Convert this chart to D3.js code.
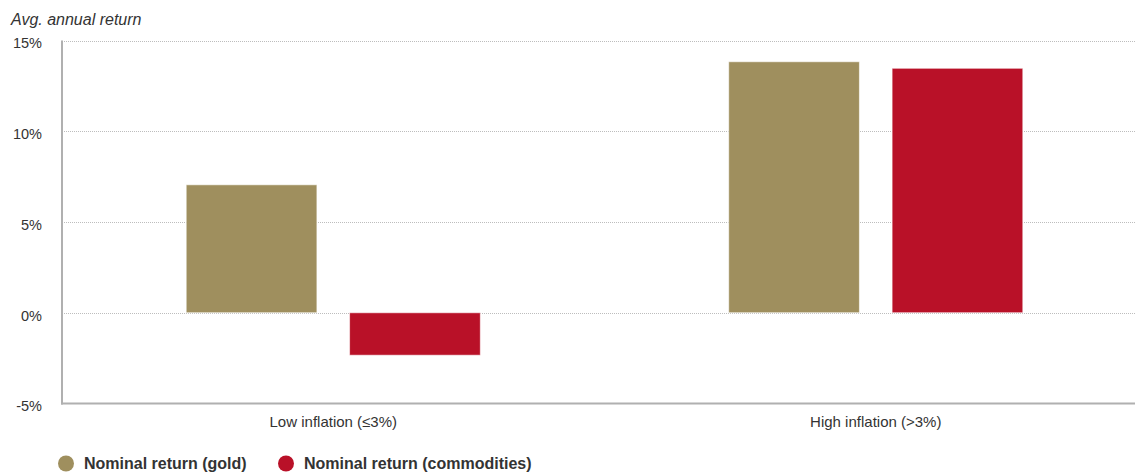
<!DOCTYPE html>
<html>
<head>
<meta charset="utf-8">
<script src="https://cdn.jsdelivr.net/npm/d3@7"></script>
<style>
  body { margin: 0; background: #fff; }
  svg { display: block; font-family: "Liberation Sans", Arial, Helvetica, sans-serif; }
</style>
</head>
<body>
<div id="chart"></div>
<script>
// chart data
const categories = ["Low inflation (≤3%)", "High inflation (>3%)"];
const seriesNames = ["Nominal return (gold)", "Nominal return (commodities)"];
const goldValues = [7.05, 13.83];
const commodityValues = [-2.34, 13.47];
const yTicks = [-5, 0, 5, 10, 15];

const width = 1135;
const height = 472;
const colors = ["#9F8F5E", "#B91128"];

const svg = d3.select("#chart")
    .append("svg")
    .attr("width", width)
    .attr("height", height);

const plotLeft = 62, plotRight = 1135, plotTop = 40.5, plotBottom = 403.5;

// scales
const y = d3.scaleLinear().domain([-5, 15]).range([plotBottom, plotTop]);
const x0 = d3.scaleBand().domain(categories).range([plotLeft, 1147]);
const x1 = d3.scaleBand().domain(seriesNames)
    .range([0, x0.bandwidth()])
    .paddingInner(0.2)
    .paddingOuter(0.76);

// dotted gridlines
svg.append("g")
    .selectAll("line")
    .data(yTicks.filter(d => d !== -5))
    .join("line")
    .attr("x1", plotLeft)
    .attr("x2", plotRight)
    .attr("y1", d => Math.round(y(d)) + 0.5)
    .attr("y2", d => Math.round(y(d)) + 0.5)
    .attr("stroke", "#bdbdbd")
    .attr("stroke-dasharray", "1,1");

// y axis labels
const yAxis = d3.axisLeft(y).tickValues(yTicks).tickFormat(d => d + "%").tickSize(0).tickPadding(0);
const gy = svg.append("g")
    .attr("transform", "translate(42,0)")
    .call(yAxis);
gy.select(".domain").remove();
gy.selectAll("text")
    .attr("font-size", 14.5)
    .attr("fill", "#333")
    .attr("font-family", "Liberation Sans, Arial, sans-serif")
    .attr("dy", "0.5em");

// bars
const rows = categories.map((c, i) => ({cat: c, vals: [goldValues[i], commodityValues[i]]}));
svg.append("g")
    .selectAll("g")
    .data(rows)
    .join("g")
    .attr("transform", d => "translate(" + x0(d.cat) + ",0)")
    .selectAll("rect")
    .data(d => d.vals.map((v, i) => ({name: seriesNames[i], v: v, i: i})))
    .join("rect")
    .attr("x", d => x1(d.name))
    .attr("width", x1.bandwidth())
    .attr("y", d => y(Math.max(0, d.v)))
    .attr("height", d => Math.abs(y(d.v) - y(0)))
    .attr("fill", d => colors[d.i])
    .attr("stroke", "#fff")
    .attr("stroke-opacity", 0.6)
    .attr("stroke-width", 1);

// axis lines
svg.append("line")
    .attr("x1", plotLeft).attr("x2", plotLeft)
    .attr("y1", plotTop).attr("y2", plotBottom + 1)
    .attr("stroke", "#b0b0b0").attr("stroke-width", 2);
svg.append("line")
    .attr("x1", plotLeft - 1).attr("x2", plotRight)
    .attr("y1", plotBottom).attr("y2", plotBottom)
    .attr("stroke", "#b0b0b0").attr("stroke-width", 2);

// x axis labels
const xAxis = d3.axisBottom(x0).tickSize(0).tickPadding(0);
const gx = svg.append("g")
    .attr("transform", "translate(0,416)")
    .call(xAxis);
gx.select(".domain").remove();
gx.selectAll("text")
    .attr("font-size", 15)
    .attr("fill", "#333")
    .attr("font-family", "Liberation Sans, Arial, sans-serif");

// axis title
svg.append("text")
    .attr("x", 11)
    .attr("y", 25)
    .attr("font-size", 16)
    .attr("font-style", "italic")
    .attr("fill", "#333")
    .text("Avg. annual return");

// legend
const legendX = [66, 286];
const legend = svg.append("g")
    .selectAll("g")
    .data(seriesNames)
    .join("g")
    .attr("transform", (d, i) => "translate(" + legendX[i] + ",463.5)");
legend.append("circle")
    .attr("r", 8)
    .attr("fill", (d, i) => colors[i]);
legend.append("text")
    .attr("x", 18)
    .attr("dy", "0.36em")
    .attr("font-size", 16)
    .attr("font-weight", "bold")
    .attr("fill", "#333")
    .text(d => d);
</script>
</body>
</html>
